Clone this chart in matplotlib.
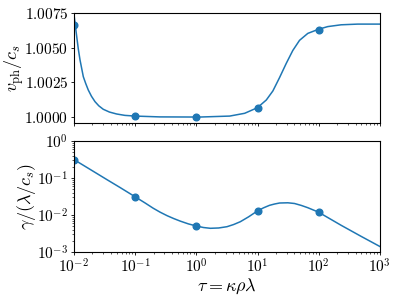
import matplotlib
matplotlib.use("Agg")
import matplotlib.pyplot as plt
import numpy as np

plt.rcParams['mathtext.fontset'] = 'cm'
plt.rcParams['font.family'] = 'serif'
plt.rcParams['font.serif'] = ['cmr10', 'DejaVu Serif']
plt.rcParams['axes.formatter.use_mathtext'] = True
for a in ('xtick', 'ytick'):
    plt.rcParams[a + '.major.size'] = 2.3
    plt.rcParams[a + '.minor.size'] = 1.3
    plt.rcParams[a + '.major.pad'] = 1.8
    plt.rcParams[a + '.minor.pad'] = 1.8
    plt.rcParams[a + '.major.width'] = 0.6
    plt.rcParams[a + '.minor.width'] = 0.45

# Sampled points (tau values)
tau_pts = [0.01, 0.1, 1.0, 10.0, 100.0]
vph_pts = [1.0066, 1.0001, 1.0000, 1.00067, 1.00631]
gam_pts = [0.31, 0.0306, 0.00504, 0.0128, 0.0120]

# Continuous curve for v_ph/c_s
tau_v = [0.0100, 0.01107, 0.01175, 0.01253, 0.01419, 0.01553, 0.01710, 0.01928,
         0.02203, 0.02541, 0.03006, 0.03793, 0.04977, 0.06788, 0.1, 0.2529,
         1.135, 3.508, 6.166, 9.93, 13.93, 17.82, 22.96, 29.51, 37.76, 48.64,
         66.37, 98.17, 140.6, 232.8, 434.5, 1000.0]
vph = [1.00737, 1.00580, 1.00491, 1.00412, 1.00291, 1.00242, 1.00195, 1.00150,
       1.00111, 1.00081, 1.00056, 1.00036, 1.00022, 1.00012, 1.00007, 1.00001,
       1.00000, 1.00007, 1.00027, 1.00067, 1.00123, 1.00188, 1.00285, 1.00387,
       1.00480, 1.00553, 1.00603, 1.00632, 1.00652, 1.00665, 1.00670, 1.00670]

# Continuous curve for gamma/(lambda/c_s)
tau_g = [0.01, 0.01824, 0.0349, 0.0562, 0.1, 0.1456, 0.1968, 0.2559, 0.3327,
         0.4277, 0.5503, 0.7430, 1.004, 1.306, 1.698, 2.318, 3.170, 4.075,
         5.239, 7.155, 9.93, 12.57, 15.74, 19.0, 22.96, 31.33, 40.27, 51.83,
         66.37, 98.17, 150.0, 232.8, 493.3, 1000.0]
gam = [0.314, 0.1718, 0.0894, 0.0557, 0.0310, 0.02109, 0.01527, 0.01191,
       0.00958, 0.00800, 0.00680, 0.00574, 0.00504, 0.00459, 0.00437, 0.00446,
       0.00483, 0.00553, 0.00659, 0.00893, 0.01282, 0.01566, 0.01828, 0.01982,
       0.02109, 0.02138, 0.02046, 0.01817, 0.01575, 0.01205, 0.00804, 0.00527,
       0.00265, 0.00141]

fig = plt.figure(figsize=(3.99, 2.99), dpi=100)
ax1 = fig.add_axes([0.1855, 0.5886, 0.952 - 0.1855, 0.9565 - 0.5886])
ax2 = fig.add_axes([0.1855, 0.1572, 0.952 - 0.1855, 0.5284 - 0.1572], sharex=ax1)

c = '#1f77b4'
ax1.plot(tau_v, vph, color=c, lw=1.1)
ax1.plot(tau_pts, vph_pts, 'o', color=c, ms=4.8)
ax1.set_xscale('log')
ax1.set_xlim(1e-2, 1e3)
ax1.set_ylim(0.99957, 1.0075)
ax1.set_yticks([1.0, 1.0025, 1.005, 1.0075])
ax1.set_yticklabels([r'$1.0000$', r'$1.0025$', r'$1.0050$', r'$1.0075$'])
ax1.tick_params(labelbottom=False, labelsize=11)
ax1.set_ylabel(r'$v_{\rm ph}/c_s$', fontsize=13)
ax1.yaxis.set_label_coords(-0.158, 0.5)

ax2.plot(tau_g, gam, color=c, lw=1.1)
ax2.plot(tau_pts, gam_pts, 'o', color=c, ms=4.8)
ax2.set_yscale('log')
ax2.set_ylim(1e-3, 1e0)
ax2.tick_params(labelsize=11)
ax2.set_ylabel(r'$\gamma/(\lambda/c_s)$', fontsize=13)
ax2.yaxis.set_label_coords(-0.118, 0.5)
ax2.set_xlabel(r'$\tau = \kappa\rho\lambda$', fontsize=13, labelpad=0.5)

fig.savefig('out.png', dpi=100)
